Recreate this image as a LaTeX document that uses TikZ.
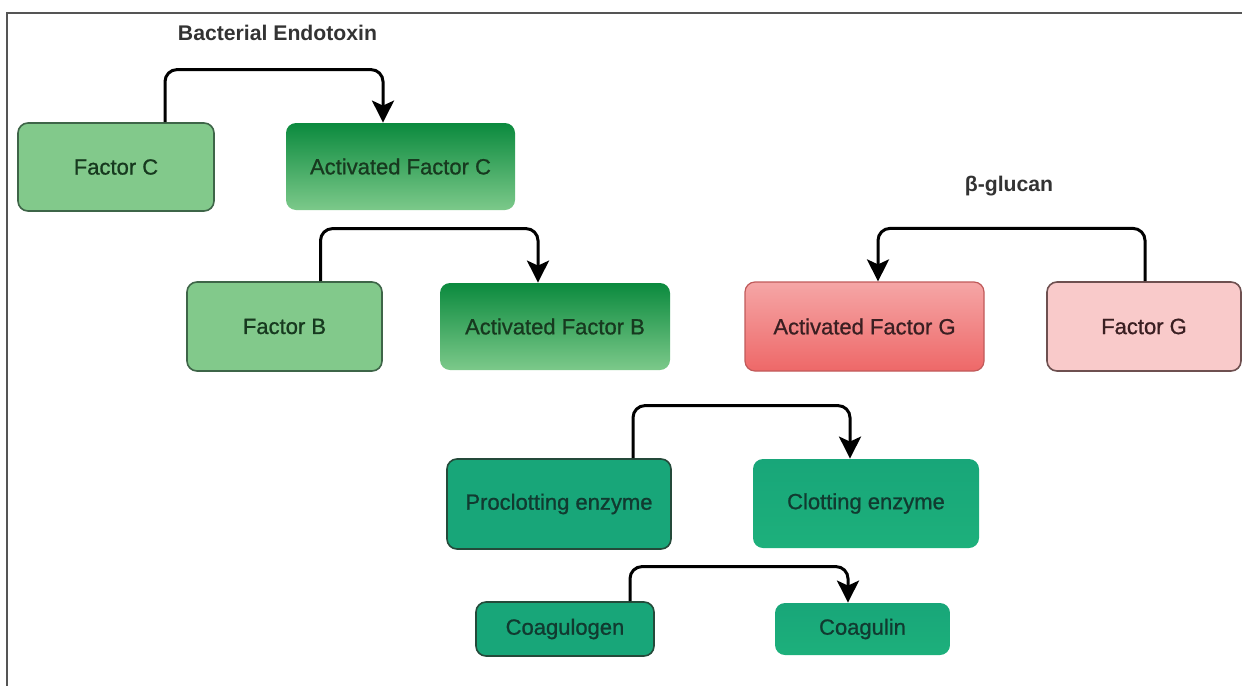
\documentclass[tikz,border=0pt]{standalone}
\usepackage{fontspec}
\setmainfont{Liberation Sans}
\newfontfamily\boxfont[FakeBold=0.9]{Liberation Sans}
\usetikzlibrary{arrows.meta,calc}
\definecolor{lgFill}{HTML}{82C98B}
\definecolor{lgDraw}{HTML}{3E6548}
\definecolor{agTop}{HTML}{0B8A3E}
\definecolor{agBot}{HTML}{7CC98A}
\definecolor{gText}{HTML}{17391F}
\definecolor{pkFill}{HTML}{F9CACA}
\definecolor{pkDraw}{HTML}{6E5050}
\definecolor{rdTop}{HTML}{F5A6A6}
\definecolor{rdBot}{HTML}{EE6868}
\definecolor{rdDraw}{HTML}{C05A5A}
\definecolor{pText}{HTML}{3A1F22}
\definecolor{tlFill}{HTML}{18A679}
\definecolor{tlBright}{HTML}{1DB07B}
\definecolor{tlDraw}{HTML}{244A3A}
\definecolor{tText}{HTML}{113A30}
\definecolor{frameC}{HTML}{555555}
\begin{document}
\begin{tikzpicture}[x=0.5pt,y=-0.5pt,
  box/.style={rectangle, rounded corners=5pt, inner sep=0pt, font=\boxfont\fontsize{11}{13}\selectfont},
  sz/.style n args={2}{minimum width={#1*0.5pt}, minimum height={#2*0.5pt}},
  lightgreen/.style={box, fill=lgFill, draw=lgDraw, line width=0.8pt, text=gText},
  actgreen/.style={box, top color=agTop, bottom color=agBot, draw=none, text=gText},
  pinkbox/.style={box, fill=pkFill, draw=pkDraw, line width=0.8pt, text=pText},
  redbox/.style={box, top color=rdTop, bottom color=rdBot, draw=rdDraw, line width=0.6pt, text=pText},
  tealbox/.style={box, fill=tlFill, draw=tlDraw, line width=0.8pt, text=tText},
  tealbright/.style={box, top color=tlFill, bottom color=tlBright, draw=none, text=tText},
  arr/.style={line width=1.5pt, rounded corners=6pt, -{Stealth[length=11pt,width=11pt,inset=2.5pt]}},
  lbl/.style={font=\bfseries\fontsize{10.6}{13}\selectfont, text=black!80}
]
\useasboundingbox (0,0) rectangle (1242,686);
\draw[frameC, line width=1pt] (1242,13) -- (7,13) -- (7,686);

\node[lbl] (endo) at (277.5,33) {Bacterial Endotoxin};
\node[lbl] (glu) at (1009,186) {β-glucan};

\node[lightgreen, sz={196}{88}] (fc) at (116,167) {Factor C};
\node[actgreen, sz={229}{87}] (afc) at (400.5,166.5) {Activated Factor C};
\node[lightgreen, sz={195}{89}] (fb) at (284.5,326.5) {Factor B};
\node[actgreen, sz={230}{87}] (afb) at (555,326.5) {Activated Factor B};
\node[redbox, sz={239}{89}] (afg) at (864.5,326.5) {Activated Factor G};
\node[pinkbox, sz={194}{89}] (fg) at (1144,326.5) {Factor G};
\node[tealbox, sz={224}{90}] (pe) at (559,504) {Proclotting enzyme};
\node[tealbright, sz={226}{89}] (ce) at (866,503.5) {Clotting enzyme};
\node[tealbox, sz={178}{54}] (cg) at (565,629) {Coagulogen};
\node[tealbright, sz={175}{52}] (cl) at (862.5,629) {Coagulin};

\draw[arr] ($(fc.north)+(49,0)$) |- ($(afc.north)+(-17.5,-53)$) -- ($(afc.north)+(-17.5,0)$);
\draw[arr] ($(fb.north)+(36,0)$) |- ($(afb.north)+(-17,-54)$) -- ($(afb.north)+(-17,0)$);
\draw[arr] ($(fg.north)+(1,0)$) |- ($(afg.north)+(13.5,-53)$) -- ($(afg.north)+(13.5,0)$);
\draw[arr] ($(pe.north)+(74,0)$) |- ($(ce.north)+(-16,-53)$) -- ($(ce.north)+(-16,0)$);
\draw[arr] ($(cg.north)+(65,0)$) |- ($(cl.north)+(-14.5,-36)$) -- ($(cl.north)+(-14.5,0)$);
\end{tikzpicture}
\end{document}
